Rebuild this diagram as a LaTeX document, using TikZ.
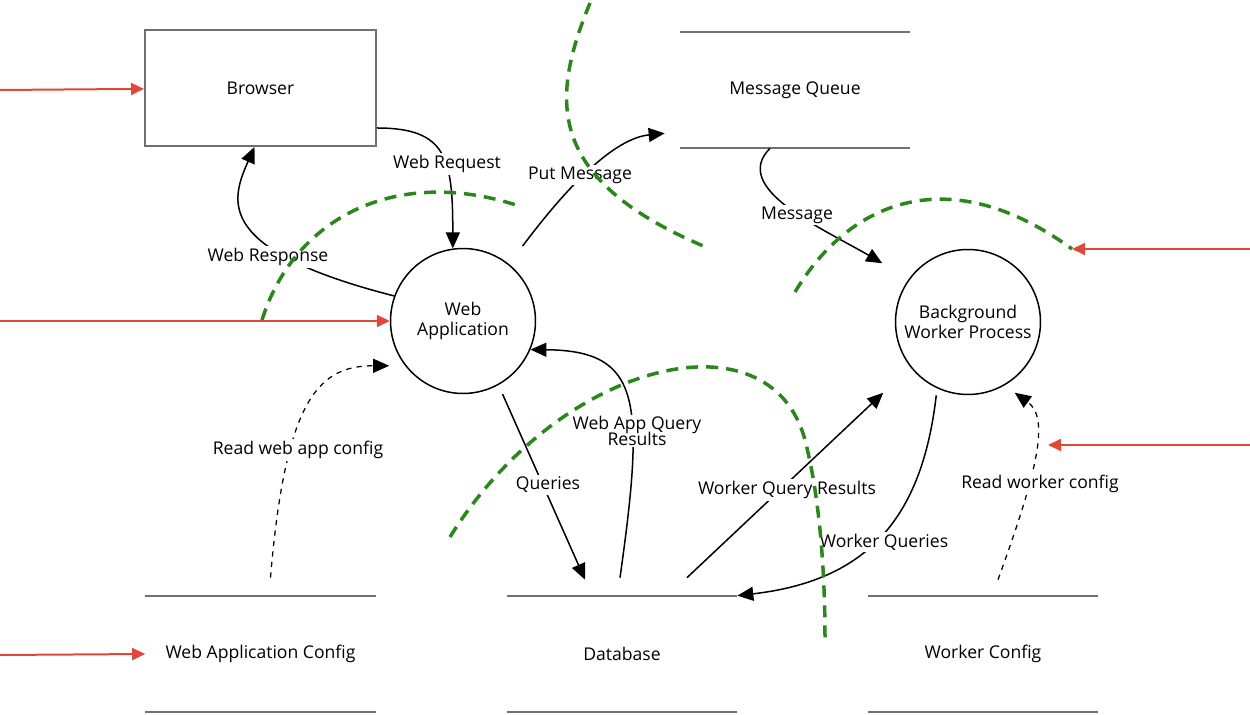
\documentclass[tikz,border=0pt]{standalone}
\usepackage{fontspec}
\setmainfont{Open Sans}
\usepackage{tikz}
\usetikzlibrary{arrows.meta,calc}
\definecolor{sinirYesil}{HTML}{2B861C}
\definecolor{girisKirmizi}{HTML}{E2473C}
\definecolor{kenarGri}{HTML}{707070}

\begin{document}
\begin{tikzpicture}[x=0.02cm,y=-0.02cm,font=\fontsize{10}{11}\selectfont,
  entity/.style={draw=kenarGri,line width=0.4mm,minimum width=4.62cm,minimum height=2.32cm},
  process/.style={circle,draw,line width=0.3mm,minimum size=2.9cm,inner sep=1pt,align=center},
  store/.style={minimum width=4.6cm,minimum height=2.32cm,inner sep=0pt},
  storeLine/.style={kenarGri,line width=0.4mm},
  flow/.style={line width=0.3mm,-{Triangle[length=3.2mm,width=2.8mm]}},
  readFlow/.style={flow,dashed,line width=0.25mm},
  lbl/.style={fill=white,inner sep=1pt,align=center},
  boundary/.style={sinirYesil,line width=0.7mm,dash pattern=on 2.4mm off 1.6mm},
  entry/.style={girisKirmizi,line width=0.4mm,-{Triangle[length=2.6mm,width=2.4mm]}}]
\useasboundingbox (0,0) rectangle (1250,715);
% varliklar, surecler, depolar
\node[entity] (browser) at (260.5,88) {Browser};
\node[store] (mq) at (795,90) {Message Queue};
\node[process] (webapp) at (463,321) {Web\\Application};
\node[process] (bgw) at (968,322) {Background\\Worker Process};
\node[store] (wcfg) at (260.5,654) {Web Application Config};
\node[store] (db) at (622,654) {Database};
\node[store] (wkcfg) at (983,654) {Worker Config};
\foreach \s in {mq,wcfg,db,wkcfg}
  \draw[storeLine] (\s.north west) -- (\s.north east) (\s.south west) -- (\s.south east);
% veri akislari
\draw[flow] ($(browser.east)+(0,40)$) .. controls +(70,0) and +(0,-90) .. (webapp.98);
\draw[flow] (webapp.160) .. controls +(-180,-46) and +(-24,54) .. ($(browser.south)+(-6,0)$);
\draw[flow,shorten <=0.45cm] (webapp.51) .. controls +(60,-80) and +(-50,5) .. ($(mq.south west)+(-15,-15)$);
\draw[flow] ($(mq.south)+(-25,0)$) .. controls +(-40,40) and +(-60,-35) .. ($(bgw.north west)+(-34,-7)$);
\draw[flow,shorten <=0.2cm] (webapp.-61) -- ($(db.north)+(-37,-16)$);
\draw[flow] ($(db.north)+(-2,-18)$) .. controls +(25,-178) and +(111,1) .. (webapp.-23);
\draw[flow] ($(db.north)+(65,-18)$) -- ($(bgw.south west)+(-33,19)$);
\draw[flow,shorten <=0.14cm] (bgw.-115) .. controls +(-15,130) and +(130,-15) .. (db.north east);
\draw[readFlow] ($(wcfg.north)+(10,-18)$) .. controls +(15,-180) and +(-70,0) .. ($(webapp.south west)+(-22,-7)$);
\draw[readFlow] ($(wkcfg.north)+(15,-16)$) .. controls +(40,-110) and +(35,25) .. ($(bgw.south east)+(-5,19)$);
% etiketler
\node[lbl] (lReq) at (447,164) {Web Request};
\node[lbl] (lResp) at (268,257) {Web Response};
\node[lbl] (lPut) at (580,175) {Put Message};
\node[lbl] (lMsg) at (797,215) {Message};
\node[lbl] (lQry) at (548,485) {Queries};
\node[lbl] (lWaRes) at (637,431) {Web App Query\\[-2pt]Results};
\node[lbl] (lWkRes) at (787,490) {Worker Query Results};
\node[lbl] (lWkQry) at (884,542) {Worker Queries};
\node[lbl] (lRwa) at (298,450) {Read web app config};
\node[lbl] (lRwk) at (1040,484) {Read worker config};
% guven sinirlari
\draw[boundary] (262,320) .. controls (295,215) and (400,165) .. (522,207);
\draw[boundary] (590,3) .. controls (550,100) and (545,180) .. (708,248);
\coordinate (g3end) at (1072,249);
\draw[boundary] (795,292) .. controls (850,200) and (950,160) .. (g3end);
\draw[boundary] (450,537) .. controls (560,360) and (770,310) .. (805,440)
  .. controls (818,490) and (825,560) .. (825,640);
% dis girisler
\coordinate (inBrowser) at (0,90);
\coordinate (inWebapp) at (0,321);
\coordinate (inWcfg) at (0,655);
\coordinate (inWorker) at (1250,249);
\coordinate (inWkcfg) at (1250,445);
\coordinate (rwkHit) at (1048,445);
\draw[entry] (inBrowser) -- (browser);
\draw[entry] (inWebapp) -- (webapp);
\draw[entry] (inWcfg) -- (wcfg.west);
\draw[entry] (inWorker) -- (g3end);
\draw[entry] (inWkcfg) -- (rwkHit);
\end{tikzpicture}
\end{document}
